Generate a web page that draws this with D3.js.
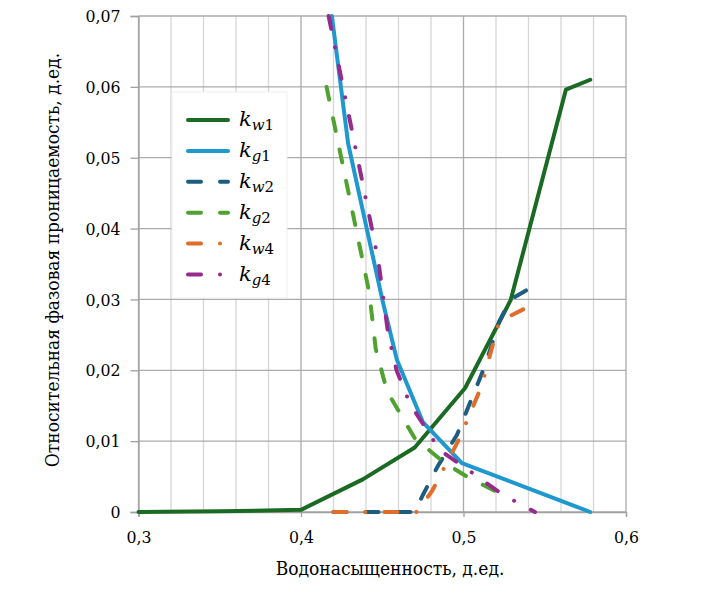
<!DOCTYPE html>
<html>
<head>
<meta charset="utf-8">
<script src="https://cdn.jsdelivr.net/npm/d3@7"></script>
<style>
  body { margin: 0; background: #fff; }
  text { fill: #000; }
</style>
</head>
<body>
<svg id="chart" width="701" height="600"></svg>
<script>
// values
var kw1Sw = [0.30, 0.35, 0.40, 0.438, 0.470, 0.501, 0.529, 0.563, 0.578];
var kw1 = [0, 0.0001, 0.0003, 0.0046, 0.0091, 0.0175, 0.0299, 0.0596, 0.0610];

var kg1Sw = [0.419, 0.429, 0.450, 0.459, 0.475, 0.499, 0.578];
var kg1 = [0.070, 0.052, 0.030, 0.0215, 0.0127, 0.0069, 0];

var kw2Sw = [0.42, 0.44, 0.46, 0.47, 0.475, 0.484, 0.496, 0.513, 0.522, 0.529, 0.544];
var kw2 = [0, 0, 0, 0, 0.0024, 0.0064, 0.0109, 0.0205, 0.0269, 0.030, 0.032];

var kg2Sw = [0.4157, 0.442, 0.446, 0.453, 0.461, 0.470, 0.488, 0.502, 0.526];
var kg2 = [0.060, 0.031, 0.023, 0.017, 0.0139, 0.0104, 0.007, 0.005, 0.0022];

var kw4Sw = [0.42, 0.44, 0.46, 0.471, 0.474, 0.481, 0.498, 0.511, 0.522, 0.542];
var kw4 = [0, 0, 0, 0, 0.0008, 0.0031, 0.0106, 0.0177, 0.0269, 0.0292];

var kg4Sw = [0.417, 0.4475, 0.4536, 0.4588, 0.467, 0.4855, 0.4988, 0.5245, 0.544];
var kg4 = [0.070, 0.0356, 0.0252, 0.020, 0.0153, 0.0087, 0.0066, 0.0024, 0];

var xTicks = [0.3, 0.4, 0.5, 0.6];
var xMinor = [0.32, 0.34, 0.36, 0.38, 0.42, 0.44, 0.46, 0.48, 0.52, 0.54, 0.56, 0.58];
var yTicks = [0, 0.01, 0.02, 0.03, 0.04, 0.05, 0.06, 0.07];

var series = [
  {k: "k", sub: "w", num: "1", sw: kw1Sw, v: kw1, color: "#1b6a23", dash: null},
  {k: "k", sub: "g", num: "1", sw: kg1Sw, v: kg1, color: "#1f97cf", dash: null},
  {k: "k", sub: "w", num: "2", sw: kw2Sw, v: kw2, color: "#1d5e80", dash: "13,19"},
  {k: "k", sub: "g", num: "2", sw: kg2Sw, v: kg2, color: "#4fa22f", dash: "13,19"},
  {k: "k", sub: "w", num: "4", sw: kw4Sw, v: kw4, color: "#df6e2c", dash: "13,19,0.01,19"},
  {k: "k", sub: "g", num: "4", sw: kg4Sw, v: kg4, color: "#972a8d", dash: "13,19,0.01,19"}
];

var FONT = "'DejaVu Serif', serif";

var margin = {top: 16, right: 75, bottom: 88, left: 138.5};
var svg = d3.select("#chart");
var w = 701 - margin.left - margin.right;
var h = 600 - margin.top - margin.bottom;

var x = d3.scaleLinear().domain([0.3, 0.6]).range([0, w]);
var y = d3.scaleLinear().domain([0, 0.07]).range([h, 0]);

var g = svg.append("g").attr("transform", "translate(" + margin.left + "," + margin.top + ")");

// grid
g.selectAll(".minor").data(xMinor).enter().append("line")
  .attr("x1", function(d){ return x(d); }).attr("x2", function(d){ return x(d); })
  .attr("y1", 0).attr("y2", h)
  .style("stroke", "#d6d6d6").style("stroke-width", 1.3);
g.selectAll(".hgrid").data(yTicks).enter().append("line")
  .attr("x1", 0).attr("x2", w)
  .attr("y1", function(d){ return y(d); }).attr("y2", function(d){ return y(d); })
  .style("stroke", "#ababab").style("stroke-width", 1.3);
g.selectAll(".vgrid").data(xTicks).enter().append("line")
  .attr("x1", function(d){ return x(d); }).attr("x2", function(d){ return x(d); })
  .attr("y1", 0).attr("y2", h)
  .style("stroke", "#ababab").style("stroke-width", 1.3);

// axes
var yAxis = d3.axisLeft(y).tickValues(yTicks).tickSize(8).tickPadding(10)
  .tickFormat(function(d){ return d === 0 ? "0" : d3.format(".2f")(d).replace(".", ","); });
var gy = g.append("g").call(yAxis).attr("font-family", FONT);
gy.select(".domain").style("stroke", "#a0a0a0").style("stroke-width", 1.3);
gy.selectAll(".tick line").style("stroke", "#a0a0a0").style("stroke-width", 1.3);
gy.selectAll("text").style("font-size", "17.5px").style("font-stretch", "condensed").attr("fill", "#000");

var xAxis = d3.axisBottom(x).tickValues(xTicks).tickSize(5).tickPadding(14)
  .tickFormat(function(d){ return d3.format(".1f")(d).replace(".", ","); });
var gx = g.append("g").attr("transform", "translate(0," + h + ")").call(xAxis).attr("font-family", FONT);
gx.select(".domain").style("stroke", "#a0a0a0").style("stroke-width", 1.3);
gx.selectAll(".tick line").style("stroke", "#a0a0a0").style("stroke-width", 1.3);
gx.selectAll("text").style("font-size", "17.5px").style("font-stretch", "condensed").attr("fill", "#000");

// legend box (drawn under curves)
var lg = g.append("g").attr("transform", "translate(" + (172 - margin.left) + "," + (92 - margin.top) + ")");
lg.append("rect").attr("width", 115).attr("height", 206)
  .style("fill", "#fff").style("stroke", "#eeeeee");

// curves
var line = d3.line()
  .x(function(d){ return x(d[0]); })
  .y(function(d){ return y(d[1]); });

series.forEach(function(s){
  var pts = s.sw.map(function(v, i){ return [v, s.v[i]]; });
  g.append("path").datum(pts)
    .attr("d", line)
    .style("fill", "none")
    .style("stroke", s.color)
    .style("stroke-width", 4)
    .style("stroke-linecap", "round")
    .style("stroke-linejoin", "round")
    .style("stroke-dasharray", s.dash);
});

// legend entries
series.forEach(function(s, i){
  var row = lg.append("g").attr("transform", "translate(0," + (28 + i * 30.9) + ")");
  row.append("line")
    .attr("x1", 16).attr("x2", 56).attr("y1", 0).attr("y2", 0)
    .style("stroke", s.color).style("stroke-width", 4)
    .style("stroke-linecap", "round")
    .style("stroke-dasharray", s.dash);
  var t = row.append("text").attr("x", 67).attr("y", 6)
    .attr("font-family", FONT)
    .style("font-size", "21px");
  t.append("tspan").text(s.k).style("font-style", "italic");
  t.append("tspan").text(s.sub).attr("dy", 4).style("font-style", "italic").style("font-size", "15px");
  t.append("tspan").text(s.num).style("font-size", "15px");
});

// titles
svg.append("text")
  .attr("x", 390).attr("y", 575)
  .attr("text-anchor", "middle")
  .attr("font-family", FONT)
  .style("font-stretch", "condensed")
  .style("font-size", "19px")
  .text("Водонасыщенность, д.ед.");

svg.append("text")
  .attr("transform", "translate(59,260) rotate(-90)")
  .attr("text-anchor", "middle")
  .attr("font-family", FONT)
  .style("font-stretch", "condensed")
  .style("font-size", "19px")
  .text("Относительная фазовая проницаемость, д.ед.");
</script>
</body>
</html>
